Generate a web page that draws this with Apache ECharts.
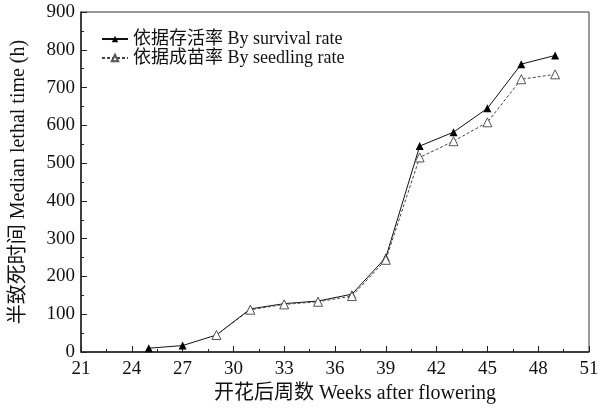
<!DOCTYPE html>
<html>
<head>
<meta charset="utf-8">
<script src="https://cdn.jsdelivr.net/npm/echarts@6/dist/echarts.min.js"></script>
<style>
  html, body { margin: 0; padding: 0; background: #fff; }
  #chart { width: 602px; height: 410px; }
</style>
</head>
<body>
<div id="chart"></div>
<script>
const weeks = [25, 27, 29, 31, 33, 35, 37, 39, 41, 43, 45, 47, 49]
const survivalRate = [10, 17, 45, 114, 128, 135, 153, 250, 545, 582, 645, 762, 785]
// seedling series starts at week 29
const seedlingRate = [null, null, 45, 112, 126, 133, 148, 244, 515, 558, 608, 722, 735]
const seriesNames = ['依据存活率 By survival rate', '依据成苗率 By seedling rate']

const font = "'Liberation Serif', 'Noto Sans CJK SC', serif"

const myChart = echarts.init(document.getElementById('chart'))
const pairs = (ys) => weeks.map((w, i) => [w, ys[i]])

const option = {
  animation: false,
  textStyle: { fontFamily: font },
  grid: { left: 81, right: 13, top: 12, bottom: 58, show: true, borderColor: '#333', borderWidth: 1 },
  legend: {
    orient: 'vertical',
    left: 96,
    top: 25,
    itemGap: 1,
    itemWidth: 26,
    itemHeight: 8,
    textStyle: { fontFamily: font, fontSize: 18, color: '#111' },
    data: seriesNames
  },
  xAxis: {
    type: 'value',
    min: 21,
    max: 51,
    interval: 3,
    name: '开花后周数 Weeks after flowering',
    nameLocation: 'middle',
    nameGap: 32,
    nameTextStyle: { fontFamily: font, fontSize: 20, color: '#111', padding: [0, 0, 0, 40] },
    axisLine: { lineStyle: { color: '#222', width: 1.5 } },
    axisTick: { inside: true, length: 6, lineStyle: { color: '#222' } },
    minorTick: { show: true, splitNumber: 2, length: 3, lineStyle: { color: '#222' } },
    axisLabel: { fontFamily: font, fontSize: 19, color: '#111', margin: 8 },
    splitLine: { show: false }
  },
  yAxis: {
    type: 'value',
    min: 0,
    max: 900,
    interval: 100,
    name: '半致死时间 Median lethal time (h)',
    nameLocation: 'middle',
    nameGap: 52,
    nameTextStyle: { fontFamily: font, fontSize: 20, color: '#111' },
    axisLine: { show: true, lineStyle: { color: '#222', width: 1.5 } },
    axisTick: { inside: true, length: 6, lineStyle: { color: '#222' } },
    minorTick: { show: true, splitNumber: 2, length: 3, lineStyle: { color: '#222' } },
    axisLabel: { fontFamily: font, fontSize: 19, color: '#111', margin: 6 },
    splitLine: { show: false }
  },
  series: [
    {
      name: seriesNames[0],
      type: 'line',
      data: pairs(survivalRate),
      symbol: 'triangle',
      symbolSize: 8,
      lineStyle: { color: '#111', width: 1 },
      itemStyle: { color: '#000', borderColor: '#000', borderWidth: 0 }
    },
    {
      name: seriesNames[1],
      type: 'line',
      data: pairs(seedlingRate),
      symbol: 'triangle',
      symbolSize: 9,
      lineStyle: { color: '#444', width: 1, type: [3, 2] },
      itemStyle: { color: '#fff', borderColor: '#555', borderWidth: 1 }
    }
  ]
}
myChart.setOption(option)
</script>
</body>
</html>
